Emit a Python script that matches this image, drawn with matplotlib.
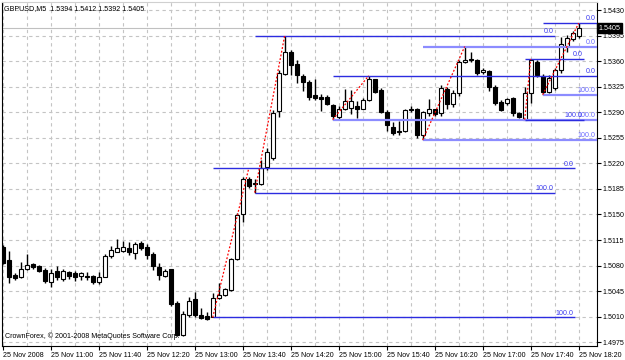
import matplotlib
matplotlib.use("Agg")
import matplotlib.pyplot as plt
from matplotlib.ticker import FixedLocator

plt.rcParams['font.family'] = ['Liberation Sans Narrow', 'Liberation Sans', 'DejaVu Sans']
FS = 5.1

# GBPUSD M5 candles, 25 Nov 2008 10:20 .. 18:20
opens = [1.5105, 1.5088, 1.5067, 1.5064, 1.5075, 1.5082, 1.5080, 1.5074, 1.5058, 1.5072,
         1.5062, 1.5071, 1.5070, 1.5066, 1.5066, 1.5066, 1.5057, 1.5065, 1.5093, 1.5099,
         1.5100, 1.5104, 1.5097, 1.5111, 1.5106, 1.5096, 1.5078, 1.5066, 1.5075, 1.5029,
         1.4985, 1.5013, 1.5034, 1.5012, 1.5011, 1.5010, 1.5035, 1.5040, 1.5047, 1.5089,
         1.5150, 1.5198, 1.5193, 1.5192, 1.5215, 1.5228, 1.5292, 1.5343, 1.5372, 1.5356,
         1.5340, 1.5332, 1.5314, 1.5311, 1.5311, 1.5300, 1.5283, 1.5295, 1.5296, 1.5298,
         1.5295, 1.5307, 1.5335, 1.5320, 1.5291, 1.5270, 1.5264, 1.5264, 1.5294, 1.5295,
         1.5259, 1.5289, 1.5294, 1.5289, 1.5322, 1.5301, 1.5316, 1.5359, 1.5363, 1.5362,
         1.5345, 1.5346, 1.5325, 1.5304, 1.5303, 1.5309, 1.5289, 1.5280, 1.5316, 1.5359,
         1.5340, 1.5318, 1.5323, 1.5348, 1.5381, 1.5390, 1.5394]
highs = [1.5108, 1.5100, 1.5070, 1.5085, 1.5096, 1.5084, 1.5081, 1.5077, 1.5075, 1.5080,
         1.5076, 1.5073, 1.5072, 1.5071, 1.5071, 1.5067, 1.5071, 1.5096, 1.5107, 1.5117,
         1.5114, 1.5112, 1.5113, 1.5114, 1.5110, 1.5099, 1.5083, 1.5075, 1.5076, 1.5032,
         1.5018, 1.5037, 1.5044, 1.5022, 1.5017, 1.5043, 1.5056, 1.5049, 1.5090, 1.5152,
         1.5201, 1.5202, 1.5198, 1.5224, 1.5241, 1.5293, 1.5348, 1.5395, 1.5375, 1.5362,
         1.5343, 1.5334, 1.5335, 1.5315, 1.5314, 1.5301, 1.5298, 1.5322, 1.5320, 1.5305,
         1.5309, 1.5340, 1.5336, 1.5323, 1.5293, 1.5277, 1.5278, 1.5294, 1.5298, 1.5296,
         1.5292, 1.5308, 1.5295, 1.5327, 1.5324, 1.5320, 1.5362, 1.5380, 1.5372, 1.5363,
         1.5351, 1.5348, 1.5327, 1.5307, 1.5310, 1.5311, 1.5291, 1.5325, 1.5363, 1.5362,
         1.5342, 1.5341, 1.5351, 1.5393, 1.5396, 1.5401, 1.5412]
lows = [1.5082, 1.5056, 1.5060, 1.5063, 1.5074, 1.5075, 1.5071, 1.5056, 1.5051, 1.5060,
        1.5059, 1.5061, 1.5059, 1.5060, 1.5060, 1.5055, 1.5055, 1.5064, 1.5090, 1.5098,
        1.5098, 1.5094, 1.5089, 1.5101, 1.5089, 1.5074, 1.5060, 1.5065, 1.5024, 1.4984,
        1.4983, 1.5009, 1.5009, 1.5007, 1.5006, 1.5009, 1.5034, 1.5038, 1.5045, 1.5087,
        1.5140, 1.5186, 1.5180, 1.5190, 1.5211, 1.5225, 1.5284, 1.5341, 1.5341, 1.5330,
        1.5319, 1.5307, 1.5307, 1.5292, 1.5300, 1.5280, 1.5281, 1.5293, 1.5288, 1.5282,
        1.5294, 1.5305, 1.5316, 1.5289, 1.5264, 1.5259, 1.5259, 1.5263, 1.5290, 1.5255,
        1.5252, 1.5285, 1.5285, 1.5285, 1.5295, 1.5297, 1.5312, 1.5358, 1.5359, 1.5341,
        1.5342, 1.5319, 1.5300, 1.5292, 1.5300, 1.5285, 1.5282, 1.5280, 1.5303, 1.5338,
        1.5314, 1.5316, 1.5320, 1.5344, 1.5373, 1.5387, 1.5392]
closes = [1.5083, 1.5065, 1.5063, 1.5076, 1.5081, 1.5078, 1.5073, 1.5059, 1.5070, 1.5064,
          1.5072, 1.5066, 1.5065, 1.5070, 1.5065, 1.5057, 1.5064, 1.5093, 1.5102, 1.5104,
          1.5105, 1.5098, 1.5109, 1.5104, 1.5094, 1.5079, 1.5067, 1.5072, 1.5027, 1.4985,
          1.5014, 1.5032, 1.5012, 1.5008, 1.5007, 1.5036, 1.5040, 1.5048, 1.5089, 1.5149,
          1.5198, 1.5189, 1.5192, 1.5213, 1.5236, 1.5289, 1.5344, 1.5372, 1.5355, 1.5341,
          1.5331, 1.5311, 1.5310, 1.5308, 1.5301, 1.5285, 1.5294, 1.5305, 1.5306, 1.5294,
          1.5307, 1.5336, 1.5318, 1.5290, 1.5272, 1.5261, 1.5263, 1.5293, 1.5293, 1.5259,
          1.5290, 1.5294, 1.5288, 1.5323, 1.5301, 1.5317, 1.5359, 1.5362, 1.5361, 1.5344,
          1.5348, 1.5325, 1.5302, 1.5293, 1.5308, 1.5289, 1.5283, 1.5316, 1.5361, 1.5341,
          1.5318, 1.5337, 1.5348, 1.5383, 1.5392, 1.5399, 1.5405]

time_labels = ['25 Nov 2008', '25 Nov 11:00', '25 Nov 11:40', '25 Nov 12:20', '25 Nov 13:00',
               '25 Nov 13:40', '25 Nov 14:20', '25 Nov 15:00', '25 Nov 15:40', '25 Nov 16:20',
               '25 Nov 17:00', '25 Nov 17:40', '25 Nov 18:20']
price_ticks = [1.4975, 1.5010, 1.5045, 1.5080, 1.5115, 1.5150, 1.5185, 1.5220, 1.5255,
               1.5290, 1.5325, 1.5360, 1.5395, 1.5430]

# fibonacci objects: start bar, bar of the high, end bar of level lines, low, high
fib_start = [35, 42, 55, 70, 87, 90]
fib_top_bar = [41, 47, 61, 77, 88, 96]
fib_end = [95.4, 92.05, 99.05, 99.05, 96.9, 99.05]
fib_low = [1.5009, 1.5180, 1.5280, 1.5252, 1.5280, 1.5314]
fib_high = [1.5213, 1.5395, 1.5340, 1.5380, 1.5363, 1.5412]
dark = '#2c2ce0'
light = '#8c8cff'
fib_colors = [(dark, dark), (dark, dark), (dark, light), (light, light), (dark, dark), (dark, light)]

fig = plt.figure(figsize=(6.25, 3.6), dpi=100)
ax = fig.add_axes([2 / 625, 14 / 360, 595 / 625, 344 / 360])

n = len(opens)
xs = list(range(n))
ax.vlines(xs, lows, highs, color='black', lw=1.0, zorder=3)
for i in xs:
    o, c = opens[i], closes[i]
    face = 'white' if c >= o else 'black'
    ax.bar(i, abs(c - o), bottom=min(o, c), width=0.7, color=face,
           edgecolor='black', linewidth=0.8, zorder=4)

# fib levels
for k in range(len(fib_start)):
    c0, c1 = fib_colors[k]
    for lvl, col, txt in ((fib_high[k], c0, '0.0'), (fib_low[k], c1, '100.0')):
        lw = 1.0 if col == dark else 1.6
        ax.plot([fib_start[k], fib_end[k]], [lvl, lvl], color=col, lw=lw, zorder=5,
                solid_capstyle='butt')
        ax.text(fib_end[k] - 0.25, lvl + 0.00012, txt, color='#3a3af0' if col == dark else '#6a6aff',
                fontsize=FS, ha='right', va='bottom', zorder=6)
    ax.plot([fib_start[k], fib_top_bar[k]], [fib_low[k], fib_high[k]],
            color='red', lw=0.9, ls=(0, (1.5, 1.5)), zorder=5)

# bid line and grid
ax.axhline(closes[-1], color='#c0c0c0', lw=0.8, zorder=1)
ax.set_xlim(-0.12, 99.05)
ax.set_ylim(1.49699, 1.54410)

ax.yaxis.tick_right()
ax.set_yticks(price_ticks)
ax.set_yticklabels(['%.4f' % p for p in price_ticks])
ax.set_xticks([8 * j for j in range(len(time_labels))])
ax.set_xticklabels(time_labels)
ax.xaxis.set_minor_locator(FixedLocator([4 * j for j in range(26)]))
for lab in ax.get_xticklabels():
    lab.set_ha('left')
ax.tick_params(axis='both', labelsize=FS, length=3, width=0.8, color='black', pad=1)
ax.tick_params(axis='x', which='minor', length=0)
ax.grid(True, which='both', color='#c4c4c4', lw=0.8, ls=(0, (3, 3)), zorder=0)
ax.set_axisbelow(True)
for s in ('left', 'bottom', 'right'):
    ax.spines[s].set_color('black')
    ax.spines[s].set_linewidth(0.8)
ax.spines['top'].set_color('#d0d0d0')

# current price marker
ax.text(1.003, closes[-1], '%.4f' % closes[-1], transform=ax.get_yaxis_transform(),
        fontsize=FS, color='white', va='center', ha='left', zorder=10, clip_on=False,
        bbox=dict(boxstyle='square,pad=0.2', fc='black', ec='black'))

fig.text(4 / 625, 1 - 9 / 360, 'GBPUSD,M5  %.4f %.4f %.4f %.4f' % (opens[-1], highs[-1], lows[-1], closes[-1]),
         fontsize=FS, va='center', ha='left')
fig.text(5 / 625, 1 - 336 / 360, 'CrownForex, \u00a9 2001-2008 MetaQuotes Software Corp.',
         fontsize=FS, va='center', ha='left')

fig.savefig('out.png', dpi=100, facecolor='white')
